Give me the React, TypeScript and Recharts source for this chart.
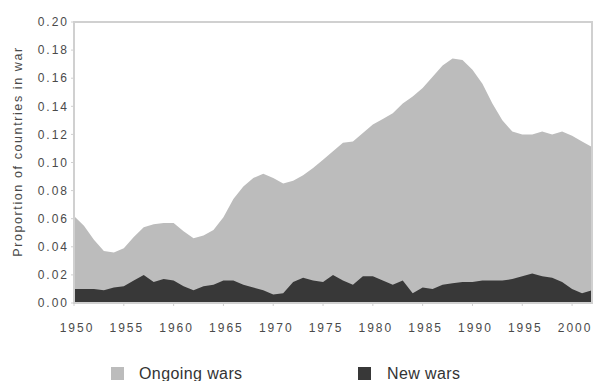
import React from 'react';
import { AreaChart, Area, XAxis, YAxis, ReferenceArea, Legend } from 'recharts';

// Share of countries involved in war, by year
const years = [
  1950, 1951, 1952, 1953, 1954, 1955, 1956, 1957, 1958, 1959,
  1960, 1961, 1962, 1963, 1964, 1965, 1966, 1967, 1968, 1969,
  1970, 1971, 1972, 1973, 1974, 1975, 1976, 1977, 1978, 1979,
  1980, 1981, 1982, 1983, 1984, 1985, 1986, 1987, 1988, 1989,
  1990, 1991, 1992, 1993, 1994, 1995, 1996, 1997, 1998, 1999,
  2000, 2001, 2002,
];

const ongoingWars = [
  0.062, 0.055, 0.045, 0.037, 0.036, 0.039, 0.047, 0.054, 0.056, 0.057,
  0.057, 0.051, 0.046, 0.048, 0.052, 0.061, 0.074, 0.083, 0.089, 0.092,
  0.089, 0.085, 0.087, 0.091, 0.096, 0.102, 0.108, 0.114, 0.115, 0.121,
  0.127, 0.131, 0.135, 0.142, 0.147, 0.153, 0.161, 0.169, 0.174, 0.173,
  0.166, 0.156, 0.142, 0.130, 0.122, 0.120, 0.120, 0.122, 0.120, 0.122,
  0.119, 0.115, 0.111,
];

const newWars = [
  0.010, 0.010, 0.010, 0.009, 0.011, 0.012, 0.016, 0.020, 0.015, 0.017,
  0.016, 0.012, 0.009, 0.012, 0.013, 0.016, 0.016, 0.013, 0.011, 0.009,
  0.006, 0.007, 0.015, 0.018, 0.016, 0.015, 0.020, 0.016, 0.013, 0.019,
  0.019, 0.016, 0.013, 0.016, 0.007, 0.011, 0.010, 0.013, 0.014, 0.015,
  0.015, 0.016, 0.016, 0.016, 0.017, 0.019, 0.021, 0.019, 0.018, 0.015,
  0.010, 0.007, 0.009,
];

const yTicks = [0, 0.02, 0.04, 0.06, 0.08, 0.1, 0.12, 0.14, 0.16, 0.18, 0.2];
const xTicks = [1950, 1955, 1960, 1965, 1970, 1975, 1980, 1985, 1990, 1995, 2000];

const ONGOING_FILL = '#bcbcbc';
const NEW_FILL = '#383838';
const FRAME = '#d0d0d0';
const TEXT = '#4a4a4a';
const FONT = '"Liberation Sans", Arial, Helvetica, sans-serif';

const data = years.map((year, i) => ({
  year,
  ongoing: ongoingWars[i],
  started: newWars[i],
}));

const legendItems = [
  { label: 'Ongoing wars', color: ONGOING_FILL, box: 111, text: 139 },
  { label: 'New wars', color: NEW_FILL, box: 358, text: 387 },
];

const LegendRow = () => (
  <div style={{ position: 'relative', width: 600, height: 48, fontFamily: FONT, fontSize: 16, color: '#333' }}>
    {legendItems.map((item) => (
      <React.Fragment key={item.label}>
        <span
          style={{
            position: 'absolute',
            left: item.box,
            top: 34,
            width: 13,
            height: 13,
            background: item.color,
          }}
        />
        <span
          style={{
            position: 'absolute',
            left: item.text,
            top: 32,
            letterSpacing: 0.4,
            whiteSpace: 'nowrap',
          }}
        >
          {item.label}
        </span>
      </React.Fragment>
    ))}
  </div>
);

export default function App() {
  return (
    <div style={{ position: 'absolute', left: 0, top: 0, background: '#fff' }}>
      <AreaChart
        width={600}
        height={381}
        data={data}
        margin={{ top: 22, right: 8, bottom: 0, left: 0 }}
      >
        <XAxis
          dataKey="year"
          type="number"
          domain={[1950, 2002]}
          ticks={xTicks}
          height={30}
          tickSize={3}
          tickMargin={17}
          axisLine={{ stroke: FRAME, strokeWidth: 2 }}
          tickLine={{ stroke: FRAME }}
          tick={{ fill: TEXT, fontSize: 12, fontFamily: FONT, letterSpacing: 2, dx: 3 }}
          allowDecimals={false}
        />
        <YAxis
          type="number"
          domain={[0, 0.2]}
          ticks={yTicks}
          width={74}
          tickSize={3}
          tickMargin={2}
          axisLine={{ stroke: FRAME, strokeWidth: 2 }}
          tickLine={{ stroke: FRAME }}
          tickFormatter={(v: number) => v.toFixed(2)}
          tick={{ fill: TEXT, fontSize: 12, fontFamily: FONT, letterSpacing: 2 }}
          label={{
            value: 'Proportion of countries in war',
            angle: -90,
            position: 'insideLeft',
            dx: 13,
            dy: -11,
            style: {
              fill: TEXT,
              fontSize: 12.5,
              fontFamily: FONT,
              letterSpacing: 1.6,
              textAnchor: 'middle',
            },
          }}
        />
        <Area
          type="linear"
          dataKey="ongoing"
          name="Ongoing wars"
          stroke="none"
          fill={ONGOING_FILL}
          fillOpacity={1}
          isAnimationActive={false}
        />
        <Area
          type="linear"
          dataKey="started"
          name="New wars"
          stroke="none"
          fill={NEW_FILL}
          fillOpacity={1}
          isAnimationActive={false}
        />
        <ReferenceArea
          x1={1950}
          x2={2002}
          y1={0}
          y2={0.2}
          fill="none"
          stroke={FRAME}
          strokeWidth={2}
        />
        <Legend
          verticalAlign="bottom"
          height={48}
          content={() => <LegendRow />}
          wrapperStyle={{ left: 0, bottom: 0, width: 600, height: 48 }}
        />
      </AreaChart>
    </div>
  );
}
